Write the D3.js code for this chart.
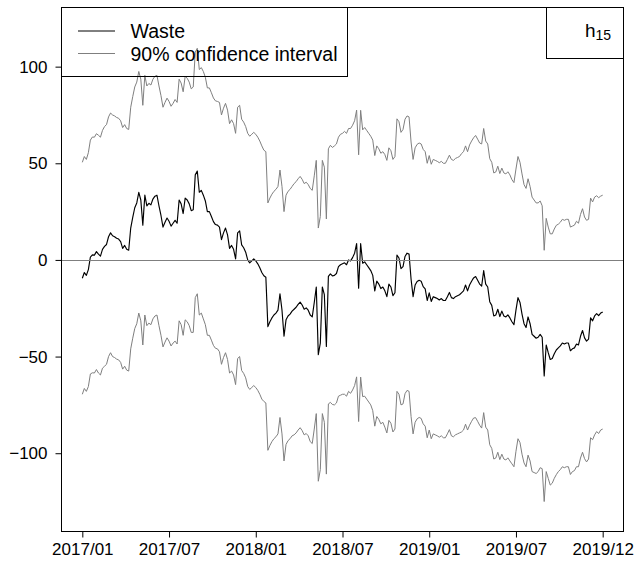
<!DOCTYPE html>
<html>
<head>
<meta charset="utf-8">
<script src="https://cdn.jsdelivr.net/npm/d3@7"></script>
<style>
  body { margin: 0; background: #fff; }
  svg { display: block; }
  text { font-family: "Liberation Sans", Arial, Helvetica, sans-serif; fill: #000; }
</style>
</head>
<body>
<svg id="chart" width="636" height="563"></svg>
<script>
// Tick labels along the observation axis (equally spaced over the series)
const tickLabels = ["2017/01", "2017/07", "2018/01", "2018/07", "2019/01", "2019/07", "2019/12"];
const yTicks = [-100, -50, 0, 50, 100];

// Estimated waste, one value per observation step
const waste = [
  -9.5, -6.5, -8, -5, 1.5, 2.6, 2.5, 4.3, 3, 2,
  5.5, 7, 8, 12, 14, 12.5, 12, 11.2, 10.8, 9.5,
  6, 7.5, 5.5, 5, 16.5, 22, 27, 29.5, 35, 31,
  18, 33.5, 28, 29.3, 28.5, 31.5, 33, 33.5, 28, 23,
  17, 19.5, 21.7, 20, 17.5, 19, 20.5, 19, 31, 29,
  24, 32, 31, 29, 25.5, 26, 44, 46, 35, 36,
  33.5, 30.5, 25, 25, 22.5, 19.8, 18.3, 18, 17, 10.5,
  14, 16.5, 13, 6, 7.5, 5.5, 0.5, 14, 15, 7.8,
  6.3, 4, 0, -1.5, -0.5, 0.5, -0.5, -2, -4, -6.5,
  -8.2, -9, -34.5, -32, -30, -28.5, -27.5, -26, -17.5, -26,
  -39.5, -31, -29, -28, -26.5, -25.5, -24.5, -23, -21.8, -23.3,
  -25.5, -24.8, -26, -28.5, -29.5, -22, -14, -49, -43, -14,
  -18, -44.8, -8.5, -7.2, -8.3, -8, -7, -3.5, -2.5, -2,
  -1.5, -2.5, 0, -0.5, 1.2, 3.5, 8.5, -14.6, 8.4, -1.7,
  -1, -2.5, -4, -5.5, -8, -16, -11, -12.5, -14.8, -14,
  -16, -19, -12.5, -14, -18.5, -17, 2.5, 1, -4.5, -3.5,
  1.8, 3.5, 3, -10, -19, -13, -11.2, -10.5, -11, -13.8,
  -15, -21, -17, -21.5, -19, -19.5, -20, -20.7, -20, -21,
  -21, -19, -16.8, -19.5, -20, -19, -18.5, -18, -17, -16,
  -13, -16, -13, -11, -9.3, -8.6, -10.5, -12.5, -13.5, -5.5,
  -12.5, -14, -21.6, -23.5, -29, -28.5, -25.5, -29.3, -26.5, -29,
  -29.5, -28.4, -30, -32, -33.5, -26, -19.5, -22, -28, -33,
  -35, -29.5, -33, -38.5, -39.5, -40.5, -40, -38.5, -40, -60,
  -44, -48, -51.5, -51, -48.5, -46.6, -45.5, -44.5, -43, -43.5,
  -43, -43, -47, -46, -45.5, -43.5, -44, -39.5, -36.5, -40.3,
  -42, -41, -30, -31.5, -29, -27.8, -28.8, -27.5, -27
];

// Half-width of the 90% interval at each observation
const margin90 = [
  60, 60, 60, 60.5, 60.5, 61, 61, 61, 61.5, 61.5,
  61.5, 62, 62, 62, 62, 62.5, 62.5, 62.5, 62.5, 62.5,
  62.5, 62.5, 62.5, 62.5, 62.5, 62.5, 62.5, 62.5, 62.5, 62.5,
  62, 62, 62, 62, 62, 62, 62, 62, 62, 62,
  62, 62, 62, 62, 62, 62, 62.5, 62.5, 62.5, 62.5,
  63, 63, 63, 63, 63, 63.5, 63.5, 63.5, 63.5, 63.5,
  64, 64, 64, 64, 64, 64, 64, 64, 64.5, 64.5,
  64.5, 64.5, 64.5, 64.5, 65, 65, 65, 65, 65, 65,
  65, 65, 65.5, 65.5, 65.5, 65.5, 65.5, 65.5, 65.5, 65.5,
  65, 65, 64, 64, 64, 64, 64, 64, 64, 64,
  64.5, 64.5, 64.5, 64.5, 64.5, 65, 65, 65, 65, 65,
  65, 65, 65, 65.5, 65.5, 65.5, 65.5, 65.5, 65.5, 65.5,
  66, 66, 66, 66.5, 66.5, 67, 67, 67, 67.5, 67.5,
  68, 68, 68, 68.5, 68.5, 68.5, 69, 69, 69, 69,
  69.5, 69.5, 69.5, 69.5, 70, 70, 70, 70, 70, 70,
  70.5, 70.5, 70.5, 70.5, 70.5, 70.5, 70.5, 70.5, 70.5, 71,
  71, 71, 71, 71, 71, 71, 71, 71, 71, 71,
  71, 71, 71, 71, 71, 71, 71, 71, 71, 71,
  71, 71, 71, 71.5, 71.5, 71.5, 71.5, 71.5, 72, 72,
  72, 72, 72.5, 72.5, 72.5, 73, 73, 73, 73.5, 73.5,
  74, 74, 74, 74, 74, 74, 74, 74, 74, 74,
  74, 74, 74, 73.5, 73.5, 73, 73, 72.5, 72.5, 72,
  72, 71.5, 71, 71, 70.5, 70, 69.5, 69, 68, 65,
  65.5, 65, 65, 64.5, 64.5, 64.5, 64, 64, 64, 64,
  64, 64, 64, 63.5, 63.5, 63.5, 63, 63, 63, 62.5,
  62.5, 62, 62, 61.5, 61.5, 61, 61, 60.5, 60.5
];

const legendLabels = ["Waste", "90% confidence interval"];
const horizonLabel = { base: "h", sub: "15" };

const plot = { left: 61.5, right: 623.5, top: 7.5, bottom: 531.5 };
const grey = "#7f7f7f";

const svg = d3.select("#chart");
const n = waste.length;
const pad = (n - 1) * 0.04;

const x = d3.scaleLinear().domain([-pad, n - 1 + pad]).range([plot.left, plot.right]);
const y = d3.scaleLinear().domain([-140.5, 130.6]).range([plot.bottom, plot.top]);

const upper = waste.map((v, i) => v + margin90[i]);
const lower = waste.map((v, i) => v - margin90[i]);

const line = d3.line().x((d, i) => x(i)).y(d => y(d));

// interval bands
[upper, lower].forEach(series => {
  svg.append("path")
    .attr("d", line(series))
    .attr("fill", "none")
    .attr("stroke", grey)
    .attr("stroke-width", 1)
    .attr("stroke-linejoin", "round");
});

// point estimate
svg.append("path")
  .attr("d", line(waste))
  .attr("fill", "none")
  .attr("stroke", "#000")
  .attr("stroke-width", 1.15)
  .attr("stroke-linejoin", "round");

// zero reference
const y0 = Math.round(y(0)) + 0.5;
svg.append("line")
  .attr("x1", plot.left).attr("x2", plot.right)
  .attr("y1", y0).attr("y2", y0)
  .attr("stroke", grey).attr("stroke-width", 1);

// plot frame
svg.append("rect")
  .attr("x", plot.left).attr("y", plot.top)
  .attr("width", plot.right - plot.left).attr("height", plot.bottom - plot.top)
  .attr("fill", "none").attr("stroke", "#000").attr("stroke-width", 1);

// x axis: ticks equally spaced over the observations
const tickIdx = tickLabels.map((_, k) => Math.round(k * (n - 1) / (tickLabels.length - 1)));
const xAxis = d3.axisBottom(x)
  .tickValues(tickIdx)
  .tickFormat((d, k) => tickLabels[k])
  .tickSizeInner(6).tickSizeOuter(0).tickPadding(5);
const gx = svg.append("g").attr("transform", `translate(0,${plot.bottom})`).call(xAxis);
gx.select(".domain").remove();
gx.selectAll("line").attr("stroke", "#000");
gx.selectAll("text").attr("font-size", 17).attr("font-family", null).attr("fill", "#000");

// y axis
const yAxis = d3.axisLeft(y)
  .tickValues(yTicks)
  .tickFormat(d => d < 0 ? "\u2212" + Math.abs(d) : String(d))
  .tickSizeInner(6).tickSizeOuter(0).tickPadding(8);
const gy = svg.append("g").attr("transform", `translate(${plot.left},0)`).call(yAxis);
gy.select(".domain").remove();
gy.selectAll("line").attr("stroke", "#000");
gy.selectAll("text").attr("font-size", 17).attr("font-family", null).attr("fill", "#000");

// legend
const leg = svg.append("g");
leg.append("rect")
  .attr("x", plot.left).attr("y", plot.top)
  .attr("width", 347.5 - plot.left).attr("height", 76.5 - plot.top)
  .attr("fill", "none").attr("stroke", "#000").attr("stroke-width", 1);
[["#000", 31], [grey, 53.5]].forEach(([c, yy], k) => {
  leg.append("line")
    .attr("x1", 78).attr("x2", 115).attr("y1", yy).attr("y2", yy)
    .attr("stroke", c).attr("stroke-width", 1);
  leg.append("text")
    .attr("x", 130.5).attr("y", yy + 7)
    .attr("font-size", 19.5)
    .text(legendLabels[k]);
});

// horizon label box
const hb = svg.append("g");
hb.append("rect")
  .attr("x", 546.5).attr("y", plot.top)
  .attr("width", plot.right - 546.5).attr("height", 58.5 - plot.top)
  .attr("fill", "none").attr("stroke", "#000").attr("stroke-width", 1);
const ht = hb.append("text").attr("x", 585).attr("y", 37.3).attr("font-size", 19);
ht.append("tspan").text(horizonLabel.base);
ht.append("tspan").attr("font-size", 14).attr("dy", 3).text(horizonLabel.sub);
</script>
</body>
</html>
